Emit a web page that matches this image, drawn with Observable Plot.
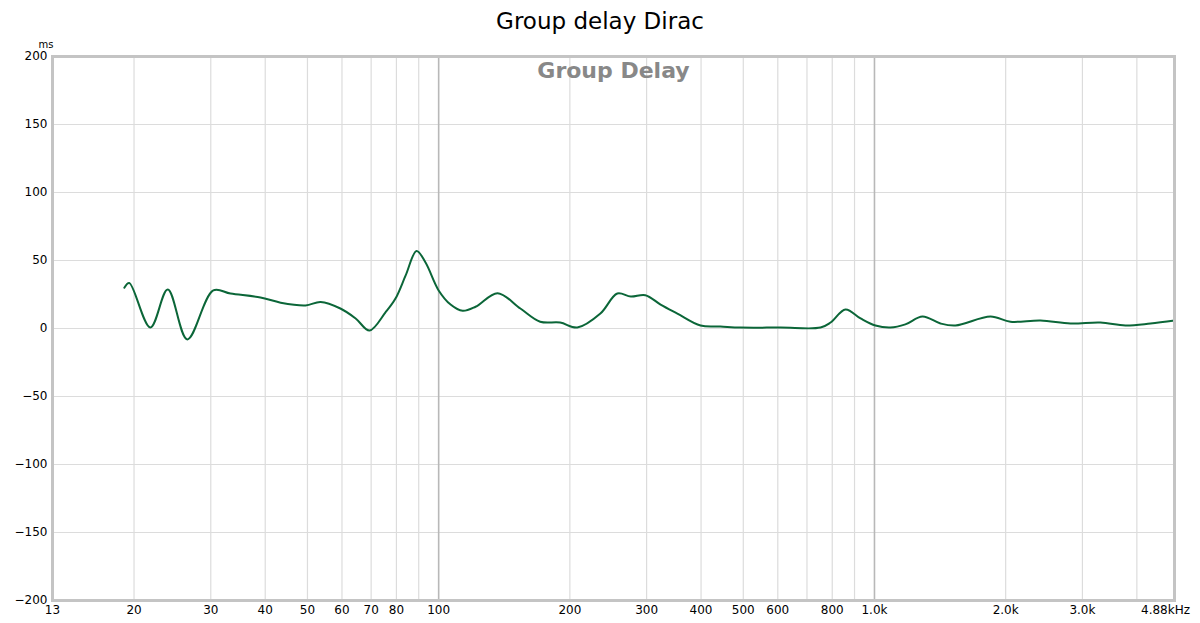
<!DOCTYPE html>
<html>
<head>
<meta charset="utf-8">
<script src="https://cdn.jsdelivr.net/npm/d3@7"></script>
<script src="https://cdn.jsdelivr.net/npm/@observablehq/plot@0.6"></script>
<style>
  html, body { margin: 0; padding: 0; background: #fff; }
  body { width: 1200px; height: 623px; overflow: hidden; font-family: "DejaVu Sans", sans-serif; }
  #title { height: 40px; line-height: 42px; text-align: center; font-size: 23px; color: #000; }
</style>
</head>
<body>
<div id="title">Group delay Dirac</div>
<div id="chart"></div>
<script>
// Frequency (Hz) and group delay (ms)
const freqHz = [19.0, 19.5, 21.8, 23.9, 26.5, 30.4, 33.3, 39.0, 43.4, 49.5, 53.6, 59.5, 64.5, 69.4, 75.5, 79.6, 84, 89, 93.3, 100, 106.5, 113.5, 121.5, 136.5, 154, 171, 190, 208, 235, 257, 276, 298, 323, 353, 399, 443, 493, 609, 752, 793, 858, 929, 1005, 1088, 1177, 1289, 1417, 1534, 1846, 2051, 2404, 2817, 3300, 3766, 4298, 4880];
const delayMs = [30, 33.5, 0.7, 28.7, -8, 28, 25.7, 22.8, 19, 17, 19.5, 14.7, 7.4, -1.5, 11.8, 22, 39, 57, 48.5, 28, 17.6, 13, 16, 26, 14.7, 5, 4.4, 0.7, 11, 25.7, 23.5, 24.5, 17.6, 11, 2.2, 1.5, 0.7, 0.7, 0.7, 4.4, 14, 7.4, 2.2, 0.7, 3, 8.8, 3.7, 2.2, 8.8, 5, 5.9, 3.7, 4.4, 2.2, 3.7, 5.9];

const xTicks = [13, 20, 30, 40, 50, 60, 70, 80, 100, 200, 300, 400, 500, 600, 800, 1000, 2000, 3000, 4880];
const xTickLabels = ["13", "20", "30", "40", "50", "60", "70", "80", "100", "200", "300", "400", "500", "600", "800", "1.0k", "2.0k", "3.0k", "4.88kHz"];
const xGridMinor = [20, 30, 40, 50, 60, 70, 80, 90, 200, 300, 400, 500, 600, 700, 800, 900, 2000, 3000, 4000];
const xGridMajor = [100, 1000];
const yTicks = [-200, -150, -100, -50, 0, 50, 100, 150, 200];

const data = freqHz.map((f, i) => ({f, d: delayMs[i]}));
const xLabelData = xTicks.map((t, i) => ({t, label: xTickLabels[i]}));

const chart = Plot.plot({
  width: 1200,
  height: 583,
  marginLeft: 52,
  marginRight: 26,
  marginTop: 16,
  marginBottom: 23,
  style: {fontFamily: "DejaVu Sans, sans-serif", fontSize: "12px", color: "#000", background: "#fff"},
  x: {type: "log", domain: [13, 4880], axis: null},
  y: {domain: [-200, 200]},
  marks: [
    Plot.ruleY(yTicks, {stroke: "#dcdcdc", strokeWidth: 1.2}),
    Plot.ruleX(xGridMinor, {stroke: "#dcdcdc", strokeWidth: 1.2}),
    Plot.ruleX(xGridMajor, {stroke: "#b8b8b8", strokeWidth: 1.6}),
    Plot.text(["Group Delay"], {frameAnchor: "top", lineAnchor: "top", dy: 6, fontSize: 22, fontWeight: "bold", fill: "#888"}),
    Plot.line(data, {x: "f", y: "d", curve: "catmull-rom", stroke: "#0b6638", strokeWidth: 2}),
    Plot.frame({stroke: "#c4c4c4", strokeWidth: 3}),
    Plot.text(xLabelData.slice(0, -1), {x: "t", text: "label", frameAnchor: "bottom", lineAnchor: "top", dy: 5, fontSize: 12, fill: "#000"}),
    Plot.text(xLabelData.slice(-1), {x: "t", text: "label", frameAnchor: "bottom", lineAnchor: "top", dy: 5, dx: -9, fontSize: 12, fill: "#000"}),
    Plot.axisY({ticks: yTicks, tickFormat: (t) => t < 0 ? "\u2212" + Math.abs(t) : String(t), tickSize: 0, tickPadding: 5, label: null, fontSize: 12}),
    Plot.text(["ms"], {frameAnchor: "top-left", lineAnchor: "bottom", dx: -14, dy: -9, fontSize: 10, fill: "#000"})
  ]
});
document.getElementById("chart").appendChild(chart);
</script>
</body>
</html>
